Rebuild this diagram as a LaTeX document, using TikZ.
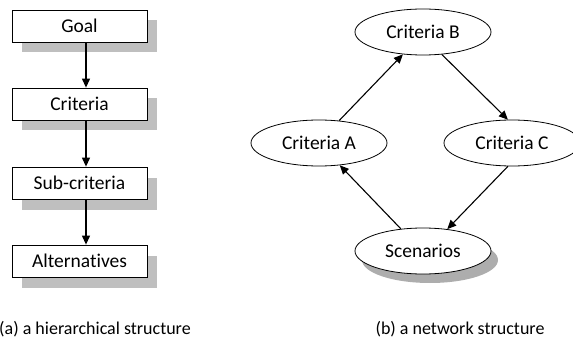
\documentclass[tikz,border=0pt]{standalone}
\usepackage{fontspec}
\setmainfont{Carlito}[Ligatures=NoCommon]
\usetikzlibrary{arrows.meta,shapes.geometric,shadows}
\begin{document}
\begin{tikzpicture}[x=1pt,y=-1pt,
  font=\fontsize{19.5}{22}\selectfont,
  conn/.style={line width=1.1pt,-{Triangle[length=9pt,width=8pt]}},
  levelbox/.style={draw,line width=0.8pt,fill=white,rectangle,minimum width=135pt,minimum height=32pt,inner sep=0pt,
    drop shadow={shadow xshift=9.5pt,shadow yshift=-10.5pt,fill=black!25,opacity=1}},
  netnode/.style={draw,line width=0.8pt,fill=white,ellipse,minimum width=136pt,minimum height=46pt,inner sep=0pt},
  caption/.style={inner sep=0pt,font=\fontsize{18}{21}\selectfont}]
\useasboundingbox (0,0) rectangle (573,350);
% (a) hierarchy
\node[levelbox] (goal) at (79.5,26) {Goal};
\node[levelbox] (crit) at (79.5,104) {Criteria};
\node[levelbox] (sub) at (79.5,183) {Sub-criteria};
\node[levelbox] (alt) at (79.5,261) {Alternatives};
\coordinate (ax) at (86,0);
\draw[conn] (goal.south -| ax) -- (crit.north -| ax);
\draw[conn] (crit.south -| ax) -- (sub.north -| ax);
\draw[conn] (sub.south -| ax) -- (alt.north -| ax);
% (b) network
\node[netnode] (cb) at (423,32) {Criteria B};
\node[netnode] (ca) at (319,143) {Criteria A};
\node[netnode] (cc) at (512,143) {Criteria C};
\node[netnode,drop shadow={shadow xshift=7pt,shadow yshift=-9pt,fill=black!32,opacity=1}] (sc) at (423,251) {Scenarios};
\draw[conn] (ca.48) -- (cb.228);
\draw[conn] (cb.310) -- (cc.100);
\draw[conn] (cc.260) -- (sc.42);
\draw[conn] (sc.135) -- (ca.313);
% captions
\node[caption,anchor=west] (capa) at (-1,329) {(a) a hierarchical structure};
\node[caption] (capb) at (460,329) {(b) a network structure};
\end{tikzpicture}
\end{document}
